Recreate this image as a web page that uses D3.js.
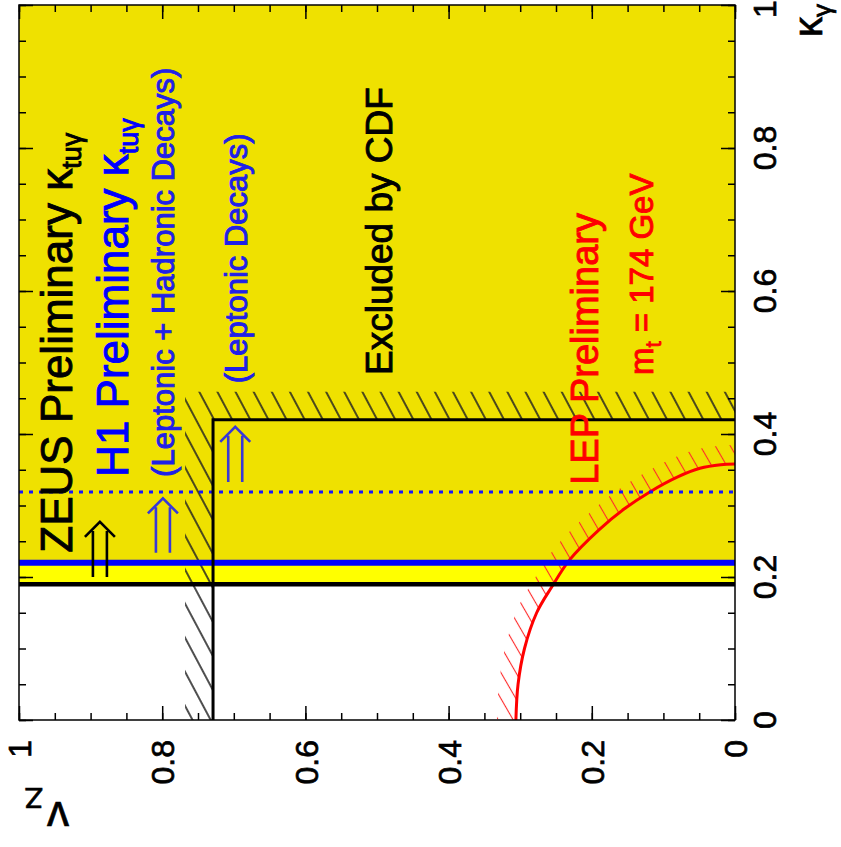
<!DOCTYPE html>
<html>
<head>
<meta charset="utf-8">
<script src="https://cdn.jsdelivr.net/npm/d3@7"></script>
<style>
  body { margin: 0; background: #fff; }
  svg { display: block; font-family: "Liberation Sans", Arial, Helvetica, sans-serif; }
</style>
</head>
<body>
<div id="chart"></div>
<script>
// ---- data ----
var vzTickLabels = [1, 0.8, 0.6, 0.4, 0.2, 0];
var kgTickLabels = [0, 0.2, 0.4, 0.6, 0.8, 1];

var zeusLimit   = 0.19;    // ZEUS kappa_tu_gamma limit (black line)
var h1Limit     = 0.22;    // H1 leptonic + hadronic (blue solid)
var h1LepLimit  = 0.319;   // H1 leptonic only (blue dotted)

// CDF limit, [vZ, kappa_gamma]
var cdfStep = [[0.729, 0], [0.729, 0.42], [0, 0.42]];

// LEP limit curve, [vZ, kappa_gamma]
var lepCurve = [[0.306, 0], [0.303, 0.05], [0.294, 0.10], [0.277, 0.15], [0.256, 0.186],
                [0.231, 0.224], [0.19, 0.266], [0.155, 0.295], [0.119, 0.319], [0.08, 0.34],
                [0.049, 0.352], [0.02, 0.357], [0, 0.358]];

// double arrows: [vZ, kappa from, kappa to]
var arrowsData = [[0.887, 0.2, 0.277], [0.799, 0.234, 0.31], [0.698, 0.333, 0.41]];

var labelTexts = ["ZEUS Preliminary κ", "H1 Preliminary κ", "(Leptonic + Hadronic Decays)",
                  "(Leptonic Decays)", "Excluded by CDF", "LEP Preliminary", "m"];

// ---- drawing ----
var W = 841, H = 847;
var x = d3.scaleLinear().domain([1, 0]).range([19, 735]);
var y = d3.scaleLinear().domain([0, 1]).range([720, 5]);

var svg = d3.select("#chart").append("svg")
  .attr("width", W).attr("height", H);

var defs = svg.append("defs");
defs.append("clipPath").attr("id", "plotClip").append("rect")
  .attr("x", x(1)).attr("y", y(1))
  .attr("width", x(0) - x(1)).attr("height", y(0) - y(1));

function hatch(id, gap, angle, color, width) {
  var p = defs.append("pattern").attr("id", id)
    .attr("patternUnits", "userSpaceOnUse")
    .attr("width", gap).attr("height", gap)
    .attr("patternTransform", "rotate(" + angle + ")");
  p.append("line").attr("x1", gap / 2).attr("y1", 0).attr("x2", gap / 2).attr("y2", gap)
    .attr("stroke", color).attr("stroke-width", width);
}
hatch("hatchK", 16, -28, "#222", 1.6);
hatch("hatchR", 13, -30, "#ff2a2a", 1.1);

var gFill  = svg.append("g").attr("clip-path", "url(#plotClip)");
var gHatch = svg.append("g").attr("clip-path", "url(#plotClip)");
var gLines = svg.append("g").attr("clip-path", "url(#plotClip)");
var gText  = svg.append("g");
var gAxes  = svg.append("g");

// excluded regions
gFill.append("rect")
  .attr("x", x(1)).attr("y", y(1))
  .attr("width", x(0) - x(1)).attr("height", y(h1Limit) - y(1))
  .attr("fill", "#efe100");
gFill.append("rect")
  .attr("x", x(1)).attr("y", y(h1Limit))
  .attr("width", x(0) - x(1)).attr("height", y(zeusLimit) - y(h1Limit))
  .attr("fill", "#ffff00");

// CDF hatch band (L shape, on the excluded side)
var cx = x(cdfStep[0][0]), cy = y(cdfStep[1][1]), bw = 28;
gHatch.append("path")
  .attr("d", "M" + (cx - bw) + "," + y(0) + "L" + (cx - bw) + "," + (cy - bw) +
             "L" + x(0) + "," + (cy - bw) + "L" + x(0) + "," + cy +
             "L" + cx + "," + cy + "L" + cx + "," + y(0) + "Z")
  .attr("fill", "url(#hatchK)");

// LEP curve and its hatch band
var lepLine = d3.line()
  .x(function(d) { return x(d[0]); })
  .y(function(d) { return y(d[1]); })
  .curve(d3.curveCatmullRom);

var lepPathNode = gLines.append("path")
  .attr("d", lepLine(lepCurve))
  .attr("fill", "none").attr("stroke", "#ff0000").attr("stroke-width", 3)
  .node();

var len = lepPathNode.getTotalLength();
var pts = d3.range(0, 151).map(function(i) { return lepPathNode.getPointAtLength(len * i / 150); });
var outer = pts.map(function(p, i) {
  var a = pts[Math.max(i - 1, 0)], b = pts[Math.min(i + 1, pts.length - 1)];
  var tx = b.x - a.x, ty = b.y - a.y, n = Math.hypot(tx, ty) || 1;
  var nx = -ty / n, ny = tx / n;
  if (nx + ny > 0) { nx = -nx; ny = -ny; }
  return [p.x + nx * 19, p.y + ny * 19];
});
var bandPts = pts.map(function(p) { return [p.x, p.y]; }).concat(outer.reverse());
gHatch.append("path")
  .attr("d", "M" + bandPts.join("L") + "Z")
  .attr("fill", "url(#hatchR)");

// H1 / ZEUS limit lines
gLines.append("line")
  .attr("x1", x(1)).attr("x2", x(0)).attr("y1", y(h1LepLimit)).attr("y2", y(h1LepLimit))
  .attr("stroke", "#1414ff").attr("stroke-width", 3).attr("stroke-dasharray", "4,6");
gLines.append("line")
  .attr("x1", x(1)).attr("x2", x(0)).attr("y1", y(h1Limit)).attr("y2", y(h1Limit))
  .attr("stroke", "#0000ff").attr("stroke-width", 6);
gLines.append("line")
  .attr("x1", x(1)).attr("x2", x(0)).attr("y1", y(zeusLimit)).attr("y2", y(zeusLimit))
  .attr("stroke", "#000").attr("stroke-width", 4.5);

// CDF step line
gLines.append("path")
  .attr("d", d3.line().x(function(d) { return x(d[0]); }).y(function(d) { return y(d[1]); })(cdfStep))
  .attr("fill", "none").attr("stroke", "#000").attr("stroke-width", 3);

// double arrows
var arrowColors = ["#000", "#3838d8", "#3838d8"];
arrowsData.forEach(function(a, i) {
  var ax = x(a[0]), y0 = y(a[1]), y1 = y(a[2]);
  gLines.append("path")
    .attr("d", "M" + (ax - 7) + "," + y0 + "V" + (y1 + 9) +
               "M" + (ax + 7) + "," + y0 + "V" + (y1 + 9) +
               "M" + (ax - 15) + "," + (y1 + 15) + "L" + ax + "," + y1 + "L" + (ax + 15) + "," + (y1 + 15))
    .attr("fill", "none").attr("stroke", arrowColors[i]).attr("stroke-width", 2.6);
});

// rotated annotations
function rotText(vz, kg, size, color, main, sub, subSize, subDy, tail) {
  var t = gText.append("text")
    .attr("transform", "translate(" + x(vz) + "," + y(kg) + ") rotate(-90)")
    .attr("font-size", size).attr("fill", color)
    .attr("stroke", color).attr("stroke-width", 0.9);
  t.append("tspan").text(main);
  if (sub) {
    t.append("tspan").attr("font-size", subSize).attr("dy", subDy).text(sub);
    if (tail) t.append("tspan").attr("dy", -subDy).text(tail);
  }
}
rotText(0.926, 0.234, 44, "#000", labelTexts[0], "tuγ", 27, 9);
rotText(0.848, 0.340, 44, "#0000ff", labelTexts[1], "tuγ", 27, 10);
rotText(0.783, 0.340, 31, "#2020e8", labelTexts[2]);
rotText(0.681, 0.471, 31, "#2020e8", labelTexts[3]);
rotText(0.479, 0.4825, 37, "#000", labelTexts[4]);
rotText(0.191, 0.329, 38, "#ff0000", labelTexts[5]);
rotText(0.115, 0.4825, 33, "#ff0000", labelTexts[6], "t", 22, 8, " = 174 GeV");

// frame
gAxes.append("rect")
  .attr("x", x(1)).attr("y", y(1))
  .attr("width", x(0) - x(1)).attr("height", y(0) - y(1))
  .attr("fill", "none").attr("stroke", "#000").attr("stroke-width", 1.5);

// ticks on all four sides, pointing inwards
function ticks(axisFn, scale, tx, ty, size, values) {
  var g = gAxes.append("g").attr("transform", "translate(" + tx + "," + ty + ")")
    .call(axisFn(scale).tickValues(values).tickSize(size).tickFormat(""));
  g.select(".domain").remove();
  g.selectAll("line").attr("stroke", "#000").attr("stroke-width", 1.5);
}
var minorVz = x.ticks(20), minorKg = y.ticks(20);
ticks(d3.axisBottom, x, 0, y(0), -14, vzTickLabels);
ticks(d3.axisBottom, x, 0, y(0), -7, minorVz);
ticks(d3.axisTop, x, 0, y(1), -14, vzTickLabels);
ticks(d3.axisTop, x, 0, y(1), -7, minorVz);
ticks(d3.axisLeft, y, x(1), 0, -14, kgTickLabels);
ticks(d3.axisLeft, y, x(1), 0, -7, minorKg);
ticks(d3.axisRight, y, x(0), 0, -14, kgTickLabels);
ticks(d3.axisRight, y, x(0), 0, -7, minorKg);

// tick labels
var fmt = d3.format("~g");
gAxes.selectAll(".vzlab").data(vzTickLabels).enter().append("text")
  .attr("class", "vzlab")
  .attr("transform", function(d) { return "translate(" + x(d) + ",740) rotate(-90)"; })
  .attr("text-anchor", "end").attr("dy", "0.38em")
  .attr("font-size", 32).attr("fill", "#000").attr("stroke", "#000").attr("stroke-width", 0.7)
  .text(fmt);
gAxes.selectAll(".kglab").data(kgTickLabels).enter().append("text")
  .attr("class", "kglab")
  .attr("transform", function(d) { return "translate(776," + Math.max(y(d), 9) + ") rotate(-90)"; })
  .attr("text-anchor", "middle")
  .attr("font-size", 32).attr("fill", "#000").attr("stroke", "#000").attr("stroke-width", 0.7)
  .text(fmt);

// axis titles
var kt = gAxes.append("text")
  .attr("transform", "translate(822,4) rotate(-90)")
  .attr("text-anchor", "end").attr("font-size", 40).attr("fill", "#000")
  .attr("stroke", "#000").attr("stroke-width", 0.7);
kt.append("tspan").text("κ");
kt.append("tspan").attr("font-size", 26).attr("dy", 9).text("γ");

var vt = gAxes.append("text")
  .attr("transform", "translate(69,802) rotate(180)")
  .attr("font-size", 44).attr("fill", "#000")
  .attr("stroke", "#000").attr("stroke-width", 0.7);
vt.append("tspan").text("v");
vt.append("tspan").attr("font-size", 30).attr("dx", 4).attr("dy", 14).text("Z");
</script>
</body>
</html>
